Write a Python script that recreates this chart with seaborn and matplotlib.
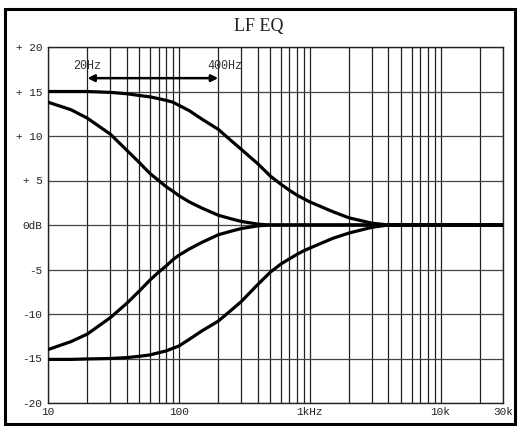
import matplotlib
matplotlib.use("Agg")
import matplotlib.pyplot as plt
from matplotlib.patches import Rectangle
import seaborn as sns
import pandas as pd

freqs = [10, 15, 20, 30, 40, 50, 60, 70, 80, 90, 100, 120, 150, 200, 250, 300, 400,
         500, 600, 700, 800, 900, 1000, 1500, 2000, 3000, 4000, 5000, 10000, 30000]

# boost, 400Hz corner
boost_400 = [15.0, 15.0, 15.0, 14.9, 14.75, 14.55, 14.4, 14.2, 14.0, 13.8, 13.45, 12.85, 11.9, 10.75,
             9.5, 8.5, 6.9, 5.5, 4.6, 3.9, 3.35, 2.95, 2.6, 1.5, 0.8, 0.2, 0.0, 0.0, 0.0, 0.0]
# boost, 20Hz corner
boost_20 = [13.8, 12.95, 12.0, 10.2, 8.4, 7.0, 5.8, 5.0, 4.3, 3.8, 3.3, 2.6, 1.9, 1.1,
            0.7, 0.4, 0.1, 0.0, 0.0, 0.0, 0.0, 0.0, 0.0, 0.0, 0.0, 0.0, 0.0, 0.0, 0.0, 0.0]
# cut, 20Hz corner
cut_20 = [-14.0, -13.1, -12.25, -10.4, -8.8, -7.4, -6.2, -5.3, -4.6, -3.9, -3.4, -2.7, -1.95, -1.1,
          -0.7, -0.4, -0.1, 0.0, 0.0, 0.0, 0.0, 0.0, 0.0, 0.0, 0.0, 0.0, 0.0, 0.0, 0.0, 0.0]
# cut, 400Hz corner
cut_400 = [-15.1, -15.1, -15.05, -15.0, -14.9, -14.75, -14.6, -14.35, -14.15, -13.85, -13.6, -12.85,
           -11.9, -10.8, -9.6, -8.6, -6.7, -5.3, -4.4, -3.8, -3.3, -2.9, -2.6, -1.5, -0.9, -0.25,
           0.0, 0.0, 0.0, 0.0]

grid_freqs = [10, 20, 30, 40, 50, 60, 70, 80, 90,
              100, 200, 300, 400, 500, 600, 700, 800, 900,
              1000, 2000, 3000, 4000, 5000, 6000, 7000, 8000, 9000,
              10000, 20000, 30000]
x_labels = {10: "10", 100: "100", 1000: "1kHz", 10000: "10k", 30000: "30k"}
y_ticks = [-20, -15, -10, -5, 0, 5, 10, 15, 20]
y_labels = ["-20", "-15", "-10", "-5", "0dB", "+ 5", "+ 10", "+ 15", "+ 20"]

rows = []
for name, vals in [("boost_400", boost_400), ("boost_20", boost_20),
                   ("cut_20", cut_20), ("cut_400", cut_400)]:
    for f, v in zip(freqs, vals):
        rows.append({"curve": name, "freq": f, "gain": v})
df = pd.DataFrame(rows)

sns.set_style("white")
plt.rcParams["font.family"] = ["Liberation Mono", "DejaVu Sans Mono"]

fig = plt.figure(figsize=(5.18, 4.26), dpi=100)
ax = fig.add_axes([48 / 518, 1 - 403 / 426, 455 / 518, 356 / 426])

ax.set_xscale("log")
ax.set_xlim(10, 30000)
ax.set_ylim(-20, 20)

# grid
for f in grid_freqs:
    ax.axvline(f, color="#222222", lw=0.9, zorder=1)
for y in y_ticks:
    ax.axhline(y, color="#444444", lw=0.9, zorder=1)

sns.lineplot(data=df, x="freq", y="gain", units="curve", estimator=None,
             color="black", lw=2.3, ax=ax, zorder=3, sort=False)

ax.set_xticks(grid_freqs, labels=[x_labels.get(f, "") for f in grid_freqs])
ax.minorticks_off()
ax.set_yticks(y_ticks, labels=y_labels)
ax.tick_params(length=0, labelsize=8, labelcolor="#222222")
ax.tick_params(axis="y", pad=4)
ax.tick_params(axis="x", pad=3)
ax.set_xlabel("")
ax.set_ylabel("")
for s in ax.spines.values():
    s.set_color("#222222")
    s.set_linewidth(1.0)

# bandwidth marker
ax.annotate("", xy=(20, 16.5), xytext=(200, 16.5),
            arrowprops=dict(arrowstyle="<|-|>", color="black", lw=1.8,
                            mutation_scale=10, shrinkA=0, shrinkB=0), zorder=4)
ax.text(20, 17.9, "20Hz", ha="center", va="center", fontsize=8.5, color="#333333")
ax.text(225, 17.9, "400Hz", ha="center", va="center", fontsize=8.5, color="#333333")

fig.text(0.5, 1 - 26 / 426, "LF EQ", ha="center", va="center", fontsize=13,
         family=["Liberation Serif", "DejaVu Serif"], color="#222222")

# outer frame
fig.patches.append(Rectangle((4.5 / 518, 2.5 / 426), 510 / 518, 415 / 426,
                             transform=fig.transFigure, fill=False,
                             edgecolor="black", lw=2.2))

fig.savefig("out.png", dpi=100)
